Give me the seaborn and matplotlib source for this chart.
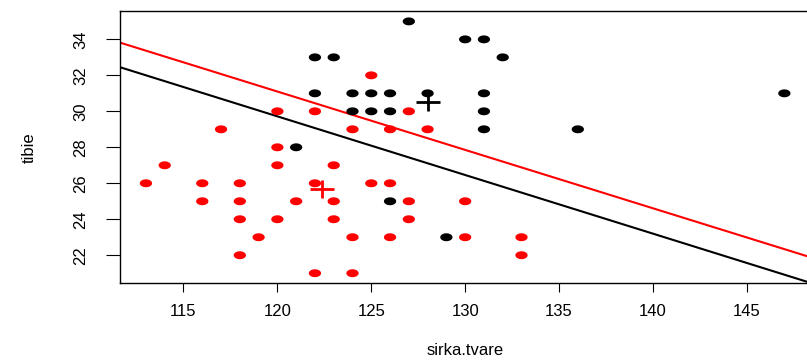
import numpy as np
import pandas as pd
import matplotlib
matplotlib.use("Agg")
import matplotlib.pyplot as plt
from matplotlib.path import Path
import seaborn as sns

# group 1 (black) - sirka.tvare / tibie
black_x = [127, 122, 123, 130, 131, 132, 122, 124, 125, 126, 128, 131, 147,
           124, 125, 126, 131, 131, 136, 121, 126, 129]
black_y = [35, 33, 33, 34, 34, 33, 31, 31, 31, 31, 31, 31, 31,
           30, 30, 30, 30, 29, 29, 28, 25, 23]

# group 2 (red)
red_x = [125, 122, 120, 127, 117, 124, 126, 128, 120, 114, 120, 123, 113,
         116, 118, 122, 125, 126, 116, 118, 121, 123, 127, 130, 118, 120,
         123, 127, 119, 124, 126, 130, 133, 118, 133, 122, 124]
red_y = [32, 30, 30, 30, 29, 29, 29, 29, 28, 27, 27, 27, 26,
         26, 26, 26, 26, 26, 25, 25, 25, 25, 25, 25, 24, 24,
         24, 24, 23, 23, 23, 23, 23, 22, 22, 21, 21]

# group centroids (the "+" marks)
centroid_x = [128.0, 122.4]
centroid_y = [30.53, 25.67]

# separating lines: intercept, slope
line_intercepts = [68.84, 70.04]
line_slopes = [-0.326, -0.3245]

group_colors = ["black", "red"]

df = pd.DataFrame({
    "sirka.tvare": black_x + red_x,
    "tibie": black_y + red_y,
    "group": ["a"] * len(black_x) + ["b"] * len(red_x),
})

plt.rcParams["font.family"] = ["Liberation Sans", "DejaVu Sans"]

fig = plt.figure(figsize=(8.07, 3.6), dpi=100)
ax = fig.add_axes([0.1492, 0.2131, 0.8544, 0.7555])

# R draws the points as wide ellipses (stretched output)
t = np.linspace(0, 2 * np.pi, 60)
ellipse = Path(np.column_stack([1.55 * np.cos(t), np.sin(t)]), closed=True)

sns.scatterplot(data=df, x="sirka.tvare", y="tibie", hue="group",
                palette=group_colors, marker=ellipse, s=78, linewidth=0,
                legend=False, ax=ax, zorder=3)

for a, b, c in zip(line_intercepts, line_slopes, group_colors):
    ax.axline((0, a), slope=b, color=c, lw=1.5, zorder=2)

plus = Path([(-1.26, 0), (1.26, 0), (0, -1), (0, 1)],
            [Path.MOVETO, Path.LINETO, Path.MOVETO, Path.LINETO])
for cx, cy, c in zip(centroid_x, centroid_y, group_colors):
    ax.plot([cx], [cy], linestyle="none", marker=plus, ms=17,
            mec=c, mew=2.0, zorder=4)

ax.set_xlim(111.64, 148.36)
ax.set_ylim(20.44, 35.56)
ax.set_xticks([115, 120, 125, 130, 135, 140, 145])
ax.set_yticks([22, 24, 26, 28, 30, 32, 34])

for side in ["top", "left", "bottom", "right"]:
    ax.spines[side].set_color("black")
    ax.spines[side].set_linewidth(1.0)

ax.tick_params(axis="x", length=9.3 * 0.72, width=0.8, pad=8, labelsize=12)
ax.tick_params(axis="y", length=14 * 0.72, width=0.8, pad=13, labelsize=12,
               labelrotation=90)
for lab in ax.get_yticklabels():
    lab.set_va("center")

ax.set_xlabel("sirka.tvare", fontsize=12)
ax.set_ylabel("tibie", fontsize=12)
ax.xaxis.set_label_coords(0.5, (283.3 - 350.5) / 272.0)
ax.xaxis.label.set_va("center")
ax.yaxis.set_label_coords((29 - 120.4) / 689.5, 0.5)
ax.yaxis.label.set_va("center")
ax.yaxis.label.set_ha("center")

fig.savefig("out.png", dpi=100)
